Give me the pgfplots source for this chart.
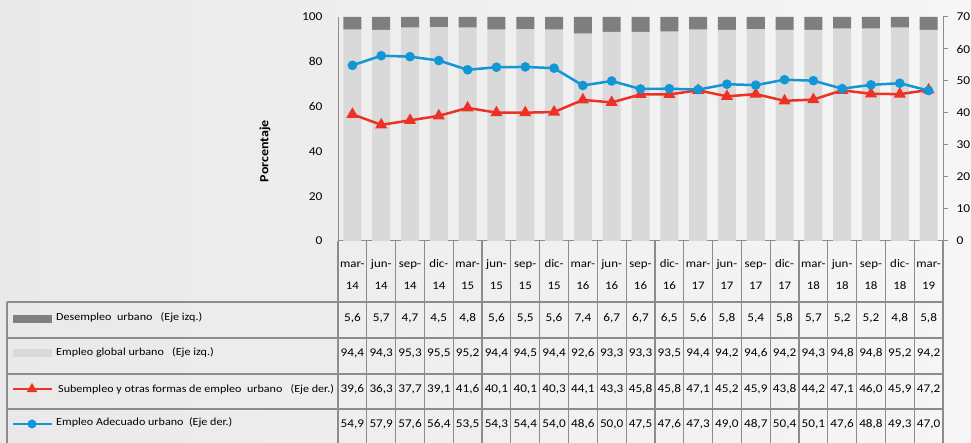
\documentclass[border=0pt]{standalone}
\usepackage{fontspec}
\setmainfont{Carlito}[FakeStretch=1.12]
\usepackage{pgfplots}
\usepackage{pgfplotstable}
\pgfplotsset{compat=1.18}

\definecolor{desemp}{HTML}{7F7F7F}
\definecolor{global}{HTML}{D9D9D9}
\definecolor{subemp}{HTML}{EE3124}
\definecolor{adec}{HTML}{1196D6}
\definecolor{rejilla}{HTML}{8C8C8C}

% trimestres mar-14 ... mar-19
\pgfplotstableread{
x  des  glob  sub   ade
0  5.6  94.4  39.6  54.9
1  5.7  94.3  36.3  57.9
2  4.7  95.3  37.7  57.6
3  4.5  95.5  39.1  56.4
4  4.8  95.2  41.6  53.5
5  5.6  94.4  40.1  54.3
6  5.5  94.5  40.1  54.4
7  5.6  94.4  40.3  54.0
8  7.4  92.6  44.1  48.6
9  6.7  93.3  43.3  50.0
10 6.7  93.3  45.8  47.5
11 6.5  93.5  45.8  47.6
12 5.6  94.4  47.1  47.3
13 5.8  94.2  45.2  49.0
14 5.4  94.6  45.9  48.7
15 5.8  94.2  43.8  50.4
16 5.7  94.3  44.2  50.1
17 5.2  94.8  47.1  47.6
18 5.2  94.8  46.0  48.8
19 4.8  95.2  45.9  49.3
20 5.8  94.2  47.2  47.0
}\datos

\newcommand\cat[2]{\strut #1-\\\strut #2}

\begin{document}
\begin{tikzpicture}[x=1pt,y=1pt]
\useasboundingbox (0,0) rectangle (971,443);
\shade[left color={rgb,255:red,232;green,233;blue,232}, right color={rgb,255:red,246;green,246;blue,246}] (0,0) rectangle (971,443);

% rejilla de la tabla
\foreach \k in {0,...,21}
  \draw[rejilla, line width=1.2pt] ({338+\k*28.8095},202) -- ({338+\k*28.8095},0);
\foreach \yy in {141,105,69,34}
  \draw[rejilla, line width=1.2pt] (7,\yy) -- (943,\yy);
\draw[rejilla, line width=1.2pt] (7,141) -- (7,0);

% barras (eje izq.)
\begin{axis}[
    at={(338pt,202pt)}, anchor=south west,
    scale only axis, width=605pt, height=224pt,
    xmin=-0.5, xmax=20.5, ymin=0, ymax=100,
    ybar stacked, bar width=0.625,
    axis x line*=bottom, axis y line*=left,
    axis line style={rejilla, line width=1pt, -},
    xtick={0,...,20},
    xticklabels={{\cat{mar}{14}},{\cat{jun}{14}},{\cat{sep}{14}},{\cat{dic}{14}},
                 {\cat{mar}{15}},{\cat{jun}{15}},{\cat{sep}{15}},{\cat{dic}{15}},
                 {\cat{mar}{16}},{\cat{jun}{16}},{\cat{sep}{16}},{\cat{dic}{16}},
                 {\cat{mar}{17}},{\cat{jun}{17}},{\cat{sep}{17}},{\cat{dic}{17}},
                 {\cat{mar}{18}},{\cat{jun}{18}},{\cat{sep}{18}},{\cat{dic}{18}},
                 {\cat{mar}{19}}},
    xticklabel style={align=center, font=\fontsize{11.5}{22}\selectfont, inner sep=0pt, yshift=-11pt},
    ytick={0,20,...,100},
    yticklabel style={font=\fontsize{12}{14}\selectfont, xshift=-12pt},
    tick style={draw=none},
    /pgf/number format/assume math mode=true,
]
\addplot[fill=global, draw=none] table[x=x, y=glob] {\datos};
\addplot[fill=desemp, draw=none] table[x=x, y=des] {\datos};
\end{axis}

% lineas (eje der.)
\begin{axis}[
    at={(338pt,202pt)}, anchor=south west,
    scale only axis, width=605pt, height=224pt,
    xmin=-0.5, xmax=20.5, ymin=0, ymax=70,
    axis x line=none, axis y line*=right,
    axis line style={rejilla, line width=1pt, -},
    ytick={0,10,...,70},
    tick align=outside, major tick length=5pt,
    ytick style={rejilla, line width=1pt},
    yticklabel style={font=\fontsize{12}{14}\selectfont, xshift=5pt},
    /pgf/number format/assume math mode=true,
    clip=false,
]
\addplot[subemp, line width=2.5pt, mark=triangle*, mark size=4.5pt] table[x=x, y=sub] {\datos};
\addplot[adec, line width=2.5pt, mark=*, mark size=3.5pt] table[x=x, y=ade] {\datos};
\end{axis}

% valores de la tabla
\begin{axis}[
    at={(338pt,0pt)}, anchor=south west,
    scale only axis, width=605pt, height=202pt,
    xmin=-0.5, xmax=20.5, ymin=0, ymax=202,
    hide axis, clip=false,
    point meta=explicit,
    nodes near coords={\pgfmathprintnumber[assume math mode=true,fixed,fixed zerofill,precision=1,use comma]{\pgfplotspointmeta}},
    every node near coord/.append style={anchor=center, font=\fontsize{11.8}{13}\selectfont, text=black},
]
\addplot[draw=none, mark=none] table[x=x, y expr=125, meta=des] {\datos};
\addplot[draw=none, mark=none] table[x=x, y expr=90, meta=glob] {\datos};
\addplot[draw=none, mark=none] table[x=x, y expr=54, meta=sub] {\datos};
\addplot[draw=none, mark=none] table[x=x, y expr=19, meta=ade] {\datos};
\end{axis}

% etiquetas de las filas
\fill[desemp] (13,120) rectangle (52,128);
\fill[global] (13,86) rectangle (52,94);
\draw[subemp, line width=2.5pt] (13,54) -- (52,54);
\fill[subemp] (32,54) ++(90:6) -- ++(-120:10.4) -- ++(0:10.4) -- cycle;
\draw[adec, line width=2.5pt] (13,19) -- (52,19);
\fill[adec] (32,19) circle (4.5);
\begin{scope}[every node/.style={anchor=west, inner sep=0pt, font=\fontsize{10.8}{12}\selectfont}]
\node at (56,126) {Desempleo\ \ urbano\ \ \ (Eje izq.)};
\node at (56,91) {Empleo global urbano\ \ \ (Eje izq.)};
\node at (58,54) {Subempleo y otras formas de empleo\ \ urbano\ \ \ (Eje der.)};
\node at (56,21) {Empleo Adecuado urbano\ \ (Eje der.)};
\end{scope}

\node[rotate=90, font=\bfseries\fontsize{12.5}{14}\selectfont] at (265,292) {Porcentaje};
\end{tikzpicture}
\end{document}
